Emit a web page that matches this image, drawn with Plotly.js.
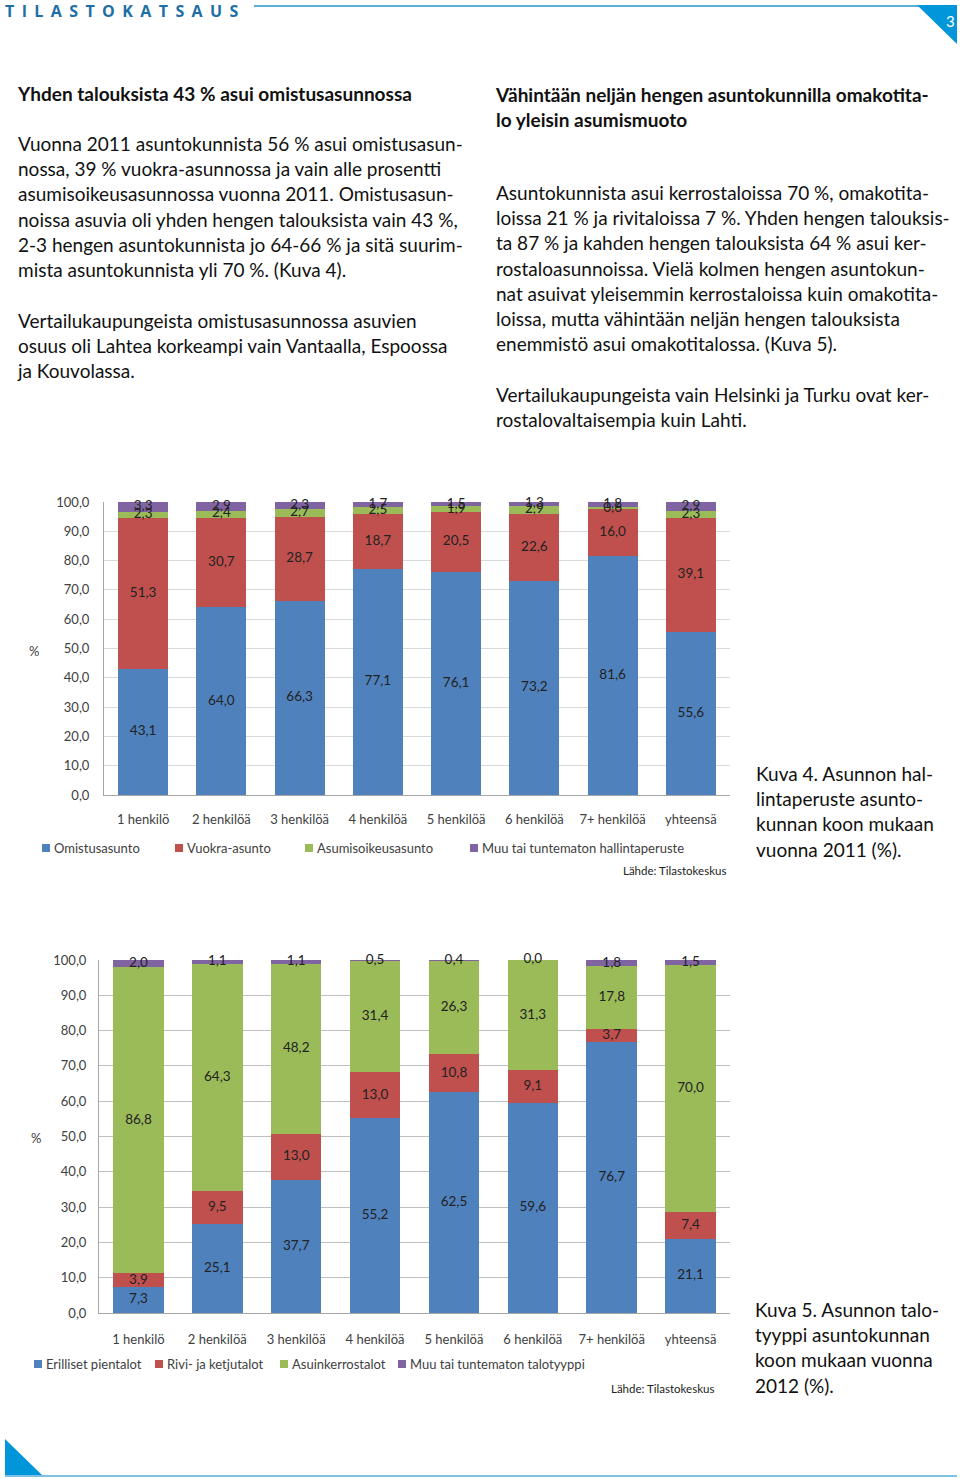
<!DOCTYPE html>
<html><head><meta charset="utf-8">
<script src="https://cdn.plot.ly/plotly-3.0.1.min.js"></script>
<style>
html,body{margin:0;padding:0;background:#fff;}
body{width:960px;height:1479px;position:relative;overflow:hidden;font-family:Lato,"Open Sans",sans-serif;color:#111;}
.t{position:absolute;white-space:nowrap;font-size:19px;line-height:25.2px;}
.b{font-weight:bold;}
#hdr{position:absolute;left:5px;top:0px;font-family:"Open Sans",Lato,sans-serif;font-weight:bold;font-size:16px;letter-spacing:7.4px;color:#1d6fa5;}
#c1{position:absolute;left:0;top:480px;width:750px;height:420px;}
#c2{position:absolute;left:0;top:940px;width:750px;height:470px;}
</style></head><body>
<svg width="960" height="1479" style="position:absolute;left:0;top:0">
<line x1="254" y1="6" x2="919" y2="6" stroke="#5aaedc" stroke-width="2"/>
<polygon points="917,5 957,5 957,44" fill="#0096d9"/>
<text x="946" y="27" fill="#fff" font-family="Lato,sans-serif" font-size="15">3</text>
<polygon points="5,1439 5,1476 43,1476" fill="#0096d9"/>
<line x1="5" y1="1476" x2="957" y2="1476" stroke="#7cc0e4" stroke-width="2"/>
</svg>
<div id="hdr">TILASTOKATSAUS</div>

<div class="t b" style="left:18px;top:81px;">Yhden talouksista 43 % asui omistusasunnossa</div>
<div class="t" style="left:18px;top:131px;">Vuonna 2011 asuntokunnista 56 % asui omistusasun-<br>nossa, 39 % vuokra-asunnossa ja vain alle prosentti<br>asumisoikeusasunnossa vuonna 2011. Omistusasun-<br>noissa asuvia oli yhden hengen talouksista vain 43 %,<br>2-3 hengen asuntokunnista jo 64-66 % ja sitä suurim-<br>mista asuntokunnista yli 70 %. (Kuva 4).</div>
<div class="t" style="left:18px;top:308px;">Vertailukaupungeista omistusasunnossa asuvien<br>osuus oli Lahtea korkeampi vain Vantaalla, Espoossa<br>ja Kouvolassa.</div>

<div class="t b" style="left:496px;top:82px;">Vähintään neljän hengen asuntokunnilla omakotita-<br>lo yleisin asumismuoto</div>
<div class="t" style="left:496px;top:180px;">Asuntokunnista asui kerrostaloissa 70 %, omakotita-<br>loissa 21 % ja rivitaloissa 7 %. Yhden hengen talouksis-<br>ta 87 % ja kahden hengen talouksista 64 % asui ker-<br>rostaloasunnoissa. Vielä kolmen hengen asuntokun-<br>nat asuivat yleisemmin kerrostaloissa kuin omakotita-<br>loissa, mutta vähintään neljän hengen talouksista<br>enemmistö asui omakotitalossa. (Kuva 5).</div>
<div class="t" style="left:496px;top:382px;">Vertailukaupungeista vain Helsinki ja Turku ovat ker-<br>rostalovaltaisempia kuin Lahti.</div>

<div class="t" style="left:756px;top:761px;">Kuva 4. Asunnon hal-<br>lintaperuste asunto-<br>kunnan koon mukaan<br>vuonna 2011 (%).</div>
<div class="t" style="left:755px;top:1297px;">Kuva 5. Asunnon talo-<br>tyyppi asuntokunnan<br>koon mukaan vuonna<br>2012 (%).</div>

<div id="c1"></div>
<div id="c2"></div>
<script>
const categories = ["1 henkilö","2 henkilöä","3 henkilöä","4 henkilöä","5 henkilöä","6 henkilöä","7+ henkilöä","yhteensä"];

// Kuva 4: hallintaperuste
const names1 = ["Omistusasunto","Vuokra-asunto","Asumisoikeusasunto","Muu tai tuntematon hallintaperuste"];
const omistus = [43.1,64.0,66.3,77.1,76.1,73.2,81.6,55.6];
const vuokra = [51.3,30.7,28.7,18.7,20.5,22.6,16.0,39.1];
const asumisoikeus = [2.3,2.4,2.7,2.5,1.9,2.9,0.6,2.3];
const muuHallinta = [3.3,2.9,2.3,1.7,1.5,1.3,1.8,2.9];

// Kuva 5: talotyyppi
const names2 = ["Erilliset pientalot","Rivi- ja ketjutalot","Asuinkerrostalot","Muu tai tuntematon talotyyppi"];
const pientalot = [7.3,25.1,37.7,55.2,62.5,59.6,76.7,21.1];
const rivitalot = [3.9,9.5,13.0,13.0,10.8,9.1,3.7,7.4];
const kerrostalot = [86.8,64.3,48.2,31.4,26.3,31.3,17.8,70.0];
const muuTalo = [2.0,1.1,1.1,0.5,0.4,0.0,1.8,1.5];

const colors = ["#4f81bd","#c0504d","#9bbb59","#8064a2"];
const fmt = v => v.toFixed(1).replace('.', ',');

function build(series, names, lblSize){
  const traces = [];
  const base = categories.map(()=>0);
  series.forEach((vals,i)=>{
    traces.push({type:'bar', x:categories, y:vals, name:names[i],
      marker:{color:colors[i]}, hoverinfo:'skip', showlegend:false});
  });
  series.forEach((vals,i)=>{
    const mids = vals.map((v,j)=>base[j]+v/2);
    vals.forEach((v,j)=>base[j]+=v);
    traces.push({type:'scatter', mode:'text', x:categories, y:mids,
      text:vals.map(fmt), textfont:{family:'Lato, sans-serif', size:lblSize, color:'#222'},
      showlegend:false, hoverinfo:'skip', cliponaxis:false});
  });
  return traces;
}

// custom legend: pixel positions of the squares (page x), y offset below plot bottom
function layout(m, names, legPx, legDy, pctPx, pctY, srcPx, srcDy, grid, xStand, yStand){
  const pw = 750 - m.l - m.r, ph = m.h - m.t - m.b;
  const px = v => (v - m.l) / pw;
  const py = d => -d / ph;
  const shapes = [], ann = [];
  names.forEach((n,i)=>{
    shapes.push({type:'rect', xref:'paper', yref:'paper', xsizemode:'pixel', ysizemode:'pixel',
      xanchor:px(legPx[i]), yanchor:py(legDy), x0:0, x1:8, y0:-4, y1:4,
      fillcolor:colors[i], line:{width:0}});
    ann.push({text:n, xref:'paper', yref:'paper', x:px(legPx[i]+10), y:py(legDy), xanchor:'left', yanchor:'middle',
      showarrow:false, font:{size:13,color:'#404040'}});
  });
  ann.push({text:'%', xref:'paper', yref:'paper', x:px(pctPx), y:pctY, showarrow:false, xanchor:'center', font:{size:13,color:'#404040'}});
  ann.push({text:'Lähde: Tilastokeskus', xref:'paper', yref:'paper', x:px(srcPx), y:py(srcDy), xanchor:'right', yanchor:'middle',
    showarrow:false, font:{size:11.5,color:'#222'}});
  return {
    width:750, height:m.h, margin:{l:m.l, r:m.r, t:m.t, b:m.b},
    barmode:'stack', bargap:0.36, separators:',.',
    paper_bgcolor:'#fff', plot_bgcolor:'#fff', showlegend:false,
    font:{family:'Lato, sans-serif', size:13, color:'#404040'},
    xaxis:{showgrid:false, showline:true, linecolor:'#a6a6a6', ticks:'', ticklabelstandoff:xStand,
      tickfont:{size:13,color:'#404040'}, automargin:false},
    yaxis:{range:[0,100], dtick:10, tickformat:'.1f', showgrid:true, gridcolor:grid, zeroline:false,
      showline:true, linecolor:'#a6a6a6', ticks:'', ticklabelstandoff:yStand,
      tickfont:{size:13,color:'#404040'}, automargin:false},
    shapes:shapes, annotations:ann
  };
}

Plotly.newPlot('c1', build([omistus,vuokra,asumisoikeus,muuHallinta], names1, 13.5),
  layout({h:420,l:104,r:20,t:22,b:105}, names1, [42,175,305,470], 53, 34, 0.49, 728, 75, '#d9d9d9', 12, 11),
  {displayModeBar:false, staticPlot:true});

Plotly.newPlot('c2', build([pientalot,rivitalot,kerrostalot,muuTalo], names2, 13.5),
  layout({h:470,l:99,r:20,t:20,b:97}, names2, [34,155,280,398], 51, 36, 0.496, 716, 75, '#bfbfbf', 14, 9),
  {displayModeBar:false, staticPlot:true});
</script>
</body></html>
